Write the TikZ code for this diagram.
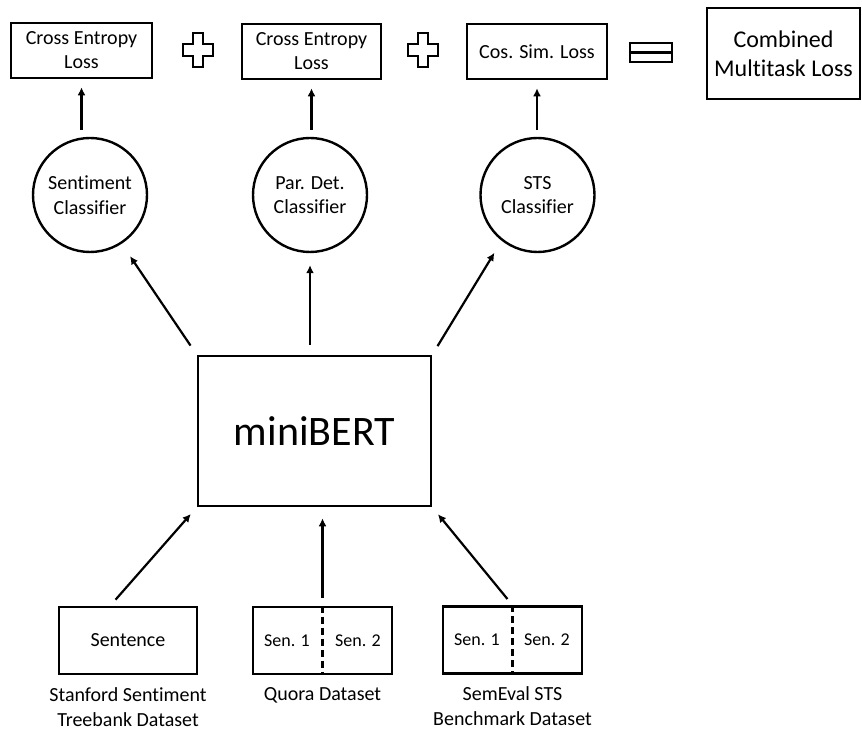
\documentclass[tikz,border=0pt]{standalone}
\usepackage{fontspec}
\setmainfont{Carlito}[Ligatures=NoCommon]
\usetikzlibrary{arrows.meta,positioning}

\begin{document}
\begin{tikzpicture}[x=1pt,y=1pt,
    box/.style={draw, line width=2.6pt, inner sep=0pt, align=center, font=\fontsize{20}{24}\selectfont},
    clf/.style={draw, circle, line width=2.4pt, minimum size=114pt, inner sep=0pt, align=center, font=\fontsize{20}{24.5}\selectfont},
    sen/.style={inner sep=0pt, font=\fontsize{18}{22}\selectfont},
    lbl/.style={align=center, inner sep=0pt, font=\fontsize{20}{25}\selectfont},
    sym/.style={line width=2.6pt, line join=miter},
    arr/.style={-{Latex[length=8pt,width=8pt]}, line width=2.2pt}]
    \useasboundingbox (0,0) rectangle (862,731);

    % losses
    \node[box, minimum width=141pt, minimum height=55pt] (loss1) at (81.5,680.5) {Cross Entropy\\Loss};
    \node[box, minimum width=139pt, minimum height=55pt] (loss2) at (311.5,679.5) {Cross Entropy\\Loss};
    \node[box, minimum width=140pt, minimum height=55pt] (loss3) at (537,679.5) {Cos. Sim. Loss};
    \node[box, minimum width=153pt, minimum height=91pt, font=\fontsize{24}{29}\selectfont] (total) at (783.5,677.5) {Combined\\Multitask Loss};
    \foreach \px in {198,423}
        \draw[sym, shift={(\px,681)}] (-5,17) -- (5,17) -- (5,6) -- (15,6) -- (15,-6) -- (5,-6) -- (5,-17) -- (-5,-17) -- (-5,-6) -- (-15,-6) -- (-15,6) -- (-5,6) -- cycle;
    \draw[sym] (630,669) rectangle (672,688);
    \draw[sym] (630,678.5) -- (672,678.5);

    % classifiers
    \node[clf] (sent) at (90,536) {Sentiment\\Classifier};
    \node[clf] (pdc) at (310,536) {Par. Det.\\Classifier};
    \node[clf] (sts) at (537.5,536) {STS\\Classifier};

    \node[box, minimum width=233pt, minimum height=150pt, font=\fontsize{42}{50}\selectfont] (bert) at (314.5,300) {miniBERT};

    % datasets
    \node[box, minimum width=138pt, minimum height=67pt] (sst) at (128,90.5) {Sentence};
    \node[box, minimum width=139pt, minimum height=67pt] (quora) at (322.5,90.5) {};
    \node[box, minimum width=139pt, minimum height=67pt] (sem) at (512.5,91) {};
    \node[sen] (q1) at (287,90.5) {Sen. 1};
    \node[sen] (q2) at (358,90.5) {Sen. 2};
    \node[sen] (s1) at (477,91) {Sen. 1};
    \node[sen] (s2) at (547,91) {Sen. 2};
    \draw[line width=2.4pt, dash pattern=on 7pt off 4pt] (quora.north) -- (quora.south);
    \draw[line width=2.4pt, dash pattern=on 7pt off 4pt] (sem.north) -- (sem.south);

    \node[lbl, below=12pt of sst] (sstlbl) {Stanford Sentiment\\Treebank Dataset};
    \node[lbl, below=12pt of quora] (quoralbl) {Quora Dataset};
    \node[lbl, below=12pt of sem] (semlbl) {SemEval STS\\Benchmark Dataset};

    % arrows
    \draw[arr, shorten <=7pt, shorten >=8pt] (sent.north -| loss1) -- (loss1.south);
    \draw[arr, shorten <=7pt, shorten >=8pt] (pdc.north -| loss2) -- (loss2.south);
    \draw[arr, shorten <=7pt, shorten >=8pt] (sts.north -| loss3) -- (loss3.south);

    \draw[arr, shorten <=11pt, shorten >=15pt] (bert.north west) -- (sent.303.5);
    \draw[arr, shorten <=10pt, shorten >=12pt] (bert.north -| pdc) -- (pdc.south);
    \draw[arr, shorten <=10pt, shorten >=14pt] (bert.north east) -- (sts.232);

    \draw[arr, shorten <=8pt, shorten >=9pt] (sst.117) -- (bert.south west);
    \draw[arr, shorten <=8pt, shorten >=11pt] (quora.north) -- (quora.north |- bert.south);
    \draw[arr, shorten <=8pt, shorten >=9pt] (sem.north) -- (bert.south east);
\end{tikzpicture}
\end{document}
